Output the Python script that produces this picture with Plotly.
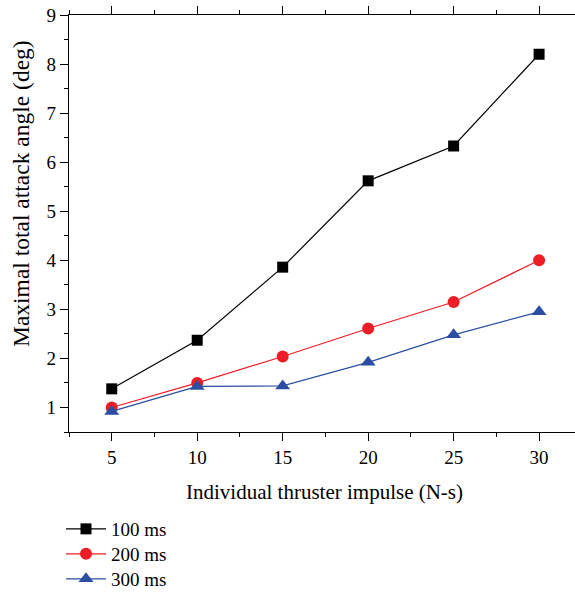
import plotly.graph_objects as go

impulse = [5, 10, 15, 20, 25, 30]
angle_100ms = [1.38, 2.37, 3.86, 5.62, 6.33, 8.20]
angle_200ms = [1.00, 1.50, 2.04, 2.61, 3.15, 4.00]
angle_300ms = [0.92, 1.43, 1.44, 1.92, 2.48, 2.95]
series_names = ["100 ms", "200 ms", "300 ms"]

FONT = "Liberation Serif"
W, H = 575, 594
ML, MR, MT, MB = 69, 0, 15, 162
PW, PH = W - ML - MR, H - MT - MB

def px_to_paper_x(px):
    return (px - ML) / PW

def px_to_paper_y(py):
    return (H - MB - py) / PH

fig = go.Figure()
styles = [
    ("#000000", "square", 11),
    ("#ee1c25", "circle", 12),
    ("#2b4ea2", "triangle-up", 13),
]
legend_ids = ["legend", "legend2", "legend3"]
legend_rows_px = [529, 554, 579]
for name, vals, (col, sym, sz), lid in zip(series_names, [angle_100ms, angle_200ms, angle_300ms], styles, legend_ids):
    fig.add_trace(go.Scatter(
        x=impulse, y=vals, name=name, mode="lines+markers", legend=lid, showlegend=True,
        line=dict(color=col, width=1.2),
        marker=dict(symbol=sym, size=sz, color=col, line=dict(width=0)),
    ))

axis_common = dict(
    showline=True, linecolor="black", linewidth=1.2,
    ticks="outside", ticklen=8, tickwidth=1.2, tickcolor="black",
    showgrid=False, zeroline=False, automargin=False,
    tickfont=dict(family=FONT, size=19, color="black"),
)
fig.update_xaxes(
    range=[2.5, 32.1], tick0=5, dtick=5, mirror="ticks",
    minor=dict(dtick=2.5, tick0=2.5, ticklen=4, tickwidth=1.2, tickcolor="black", ticks="outside"),
    **axis_common,
)
fig.update_yaxes(
    range=[0.5, 9], tick0=1, dtick=1,
    minor=dict(dtick=0.5, tick0=0.5, ticklen=4, tickwidth=1.2, tickcolor="black", ticks="outside"),
    **axis_common,
)

legend_common = dict(
    xanchor="left", yanchor="middle",
    font=dict(family=FONT, size=19, color="black"),
    bgcolor="rgba(0,0,0,0)", itemwidth=40,
)
layout_legends = {}
for lid, ypx in zip(legend_ids, legend_rows_px):
    layout_legends[lid] = dict(x=px_to_paper_x(61), y=px_to_paper_y(ypx), **legend_common)

fig.update_layout(
    width=W, height=H,
    showlegend=True,
    margin=dict(l=ML, r=MR, t=MT, b=MB, autoexpand=False),
    plot_bgcolor="white", paper_bgcolor="white",
    **layout_legends,
    annotations=[
        dict(text="Individual thruster impulse (N-s)", xref="paper", yref="paper",
             x=px_to_paper_x(324), y=px_to_paper_y(492), xanchor="center", yanchor="middle",
             showarrow=False, font=dict(family=FONT, size=21, color="black")),
        dict(text="Maximal total attack angle (deg)", xref="paper", yref="paper",
             x=px_to_paper_x(21), y=px_to_paper_y(194), xanchor="center", yanchor="middle",
             textangle=-90, showarrow=False, font=dict(family=FONT, size=23.5, color="black")),
    ],
)
fig.write_html("out.html")
